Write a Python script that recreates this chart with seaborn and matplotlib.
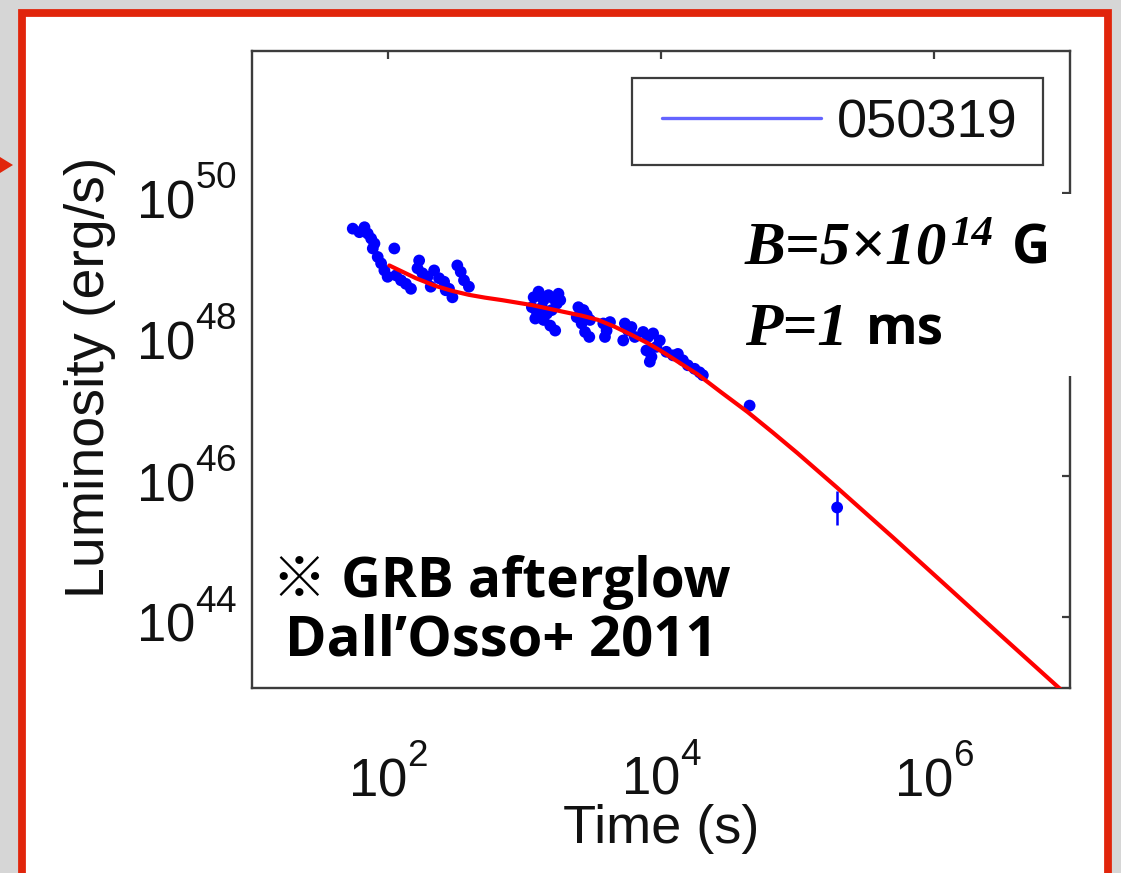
import numpy as np
import pandas as pd
import matplotlib
matplotlib.use("Agg")
import matplotlib.pyplot as plt
import seaborn as sns
from matplotlib.patches import Rectangle, Polygon
from matplotlib.lines import Line2D
from matplotlib.ticker import NullLocator, FixedLocator

try:  # raise superscripts a little, as in the reference tick labels
    import matplotlib._mathtext as _mt
    _mt.FontConstantsBase.sup1 = 1.05
    _mt.DejaVuSansFontConstants.sup1 = 1.05
except Exception:
    pass

# ---------------- data (log10 values) ----------------
obs_log_t = [1.739, 1.788, 1.825, 1.849, 1.874, 1.898, 1.886, 1.922, 1.947, 1.971,
             1.995, 2.044, 2.056, 2.093, 2.129, 2.166, 2.226, 2.214, 2.250, 2.287,
             2.311, 2.336, 2.372, 2.409, 2.445, 2.470, 2.506, 2.531, 2.555, 2.591, 2.421,
             3.066, 3.102, 3.139, 3.175, 3.212, 3.248, 3.053, 3.090, 3.127, 3.163,
             3.199, 3.236, 3.078, 3.139, 3.188, 3.224, 3.261,
             3.394, 3.431, 3.455, 3.382, 3.418, 3.443, 3.479, 3.474,
             3.577, 3.601, 3.626, 3.589,
             3.735, 3.759, 3.783, 3.723, 3.808,
             3.869, 3.905, 3.942, 3.893, 3.930, 3.966, 3.991, 3.918,
             4.039, 4.088, 4.124, 4.161, 4.197, 4.246, 4.283, 4.307,
             4.650, 5.292]
obs_log_L = [49.49, 49.44, 49.51, 49.42, 49.35, 49.28, 49.21, 49.09, 49.00, 48.90,
             48.81, 49.21, 48.83, 48.76, 48.71, 48.64, 49.04, 48.93, 48.86, 48.81,
             48.67, 48.90, 48.79, 48.74, 48.64, 48.52, 48.97, 48.88, 48.76, 48.67, 48.62,
             48.52, 48.60, 48.48, 48.55, 48.50, 48.57, 48.38, 48.31, 48.38, 48.29,
             48.34, 48.43, 48.22, 48.20, 48.12, 48.05, 48.48,
             48.38, 48.34, 48.27, 48.24, 48.15, 48.03, 48.20, 47.96,
             48.15, 48.05, 48.17, 47.96,
             48.15, 48.05, 48.10, 47.91, 47.96,
             48.03, 47.96, 48.01, 47.77, 47.68, 47.82, 47.91, 47.61,
             47.75, 47.70, 47.72, 47.63, 47.56, 47.51, 47.46, 47.42,
             46.99, 45.55]
obs_err_dex = [0.05, 0.05, 0.05, 0.05, 0.05, 0.05, 0.05, 0.05, 0.05, 0.05,
               0.05, 0.05, 0.05, 0.05, 0.05, 0.05, 0.05, 0.05, 0.05, 0.05,
               0.05, 0.05, 0.05, 0.05, 0.05, 0.05, 0.05, 0.05, 0.05, 0.05, 0.05,
               0.04, 0.04, 0.04, 0.04, 0.04, 0.04, 0.04, 0.04, 0.04, 0.04,
               0.04, 0.04, 0.04, 0.04, 0.04, 0.04, 0.04,
               0.05, 0.05, 0.05, 0.05, 0.05, 0.05, 0.05, 0.05,
               0.05, 0.05, 0.05, 0.05,
               0.05, 0.05, 0.05, 0.05, 0.05,
               0.05, 0.05, 0.05, 0.05, 0.05, 0.05, 0.05, 0.05,
               0.04, 0.04, 0.04, 0.04, 0.04, 0.04, 0.04, 0.04,
               0.06, 0.24]

model_log_t = [2.007, 2.105, 2.202, 2.348, 2.470, 2.591, 2.710, 2.834, 3.053, 3.297,
               3.420, 3.540, 3.665, 3.783, 3.905, 4.027, 4.148, 4.270, 4.440, 4.635,
               4.820, 5.000, 5.292, 5.700, 6.095, 6.500, 6.920, 7.000]
model_log_L = [48.97, 48.88, 48.79, 48.68, 48.61, 48.555, 48.515, 48.48, 48.41, 48.31,
               48.26, 48.20, 48.10, 47.99, 47.87, 47.73, 47.58, 47.43, 47.18, 46.90,
               46.61, 46.32, 45.83, 45.13, 44.44, 43.73, 43.00, 42.86]

legend_label = "050319"
x_tick_values = [1e2, 1e4, 1e6]
y_tick_values = [1e44, 1e46, 1e48, 1e50]
x_label = "Time (s)"
y_label = "Luminosity (erg/s)"

# ---------------- style ----------------
sns.set_theme(style="white")
plt.rcParams["font.family"] = ["Liberation Sans", "DejaVu Sans"]
plt.rcParams["mathtext.fontset"] = "custom"
plt.rcParams["mathtext.rm"] = "Liberation Sans"
plt.rcParams["mathtext.it"] = "Liberation Sans:italic"
plt.rcParams["mathtext.bf"] = "Liberation Sans:bold"

W, H = 1121, 873
fig = plt.figure(figsize=(W / 100, H / 100), dpi=100)
fig.patch.set_facecolor("#d6d6d6")

def fx(x):
    return x / W

def fy(y):
    return 1 - y / H

RED = "#e1250b"
# red framed white panel
fig.patches.append(Rectangle((fx(21.5), fy(885)), fx(1107.5) - fx(21.5), fy(13) - fy(885),
                             transform=fig.transFigure, facecolor="white", edgecolor=RED,
                             linewidth=5.6, zorder=-10))
# arrow tip on left
fig.patches.append(Polygon([(fx(0), fy(157)), (fx(13), fy(165)), (fx(0), fy(173))],
                           closed=True, transform=fig.transFigure, facecolor=RED,
                           edgecolor="none", zorder=-5))

ax = fig.add_axes([fx(252), fy(688), fx(1070) - fx(252), fy(51) - fy(688)])
ax.set_facecolor("white")

obs = pd.DataFrame({"t": np.power(10.0, obs_log_t), "L": np.power(10.0, obs_log_L)})
err = np.array(obs_err_dex)
lo = obs["L"] - obs["L"] * 10 ** (-err)
hi = obs["L"] * 10 ** err - obs["L"]
ax.errorbar(obs["t"], obs["L"], yerr=[lo, hi], fmt="none", ecolor="#0000ff",
            elinewidth=1.8, capsize=0, zorder=2)
sns.scatterplot(data=obs, x="t", y="L", ax=ax, color="#0000ff", s=72,
                edgecolor="none", linewidth=0, legend=False, zorder=3)

model = pd.DataFrame({"t": np.power(10.0, model_log_t), "L": np.power(10.0, model_log_L)})
sns.lineplot(data=model, x="t", y="L", ax=ax, color="#ff0000", linewidth=3.0,
             sort=False, estimator=None, zorder=4)

ax.set_xscale("log")
ax.set_yscale("log")
ax.set_xlim(1e1, 1e7)
ax.set_ylim(1e43, 1e52)
ax.xaxis.set_major_locator(FixedLocator(x_tick_values))
ax.yaxis.set_major_locator(FixedLocator(y_tick_values))
ax.xaxis.set_minor_locator(NullLocator())
ax.yaxis.set_minor_locator(NullLocator())

SPINE = "#3c3c3c"
for s in ax.spines.values():
    s.set_color(SPINE)
    s.set_linewidth(1.7)
ax.tick_params(which="major", direction="in", top=True, right=True, length=6,
               width=1.6, color=SPINE, labelsize=38, labelcolor="#111111")
ax.tick_params(axis="x", pad=42)
ax.tick_params(axis="y", pad=11)

ax.set_xlabel(x_label, fontsize=39, color="#111111")
ax.set_ylabel(y_label, fontsize=40, color="#111111")
ax.xaxis.set_label_coords((661 - 252) / 818, (688 - 843) / 637)
ax.xaxis.label.set_va("baseline")
ax.yaxis.set_label_coords((104 - 252) / 818, (688 - 377) / 637)
ax.yaxis.label.set_va("baseline")

# legend: frame drawn as its own rectangle, entry centred inside it
ax.add_patch(Rectangle((fx(632), fy(165)), fx(1043) - fx(632), fy(78) - fy(165),
                       transform=fig.transFigure, facecolor="white", clip_on=False,
                       edgecolor=SPINE, linewidth=1.6, zorder=5))
handle = Line2D([], [], color="#6464ff", linewidth=2.4)
leg = ax.legend([handle], [legend_label], loc="center",
                bbox_to_anchor=(fx(840), fy(123)), bbox_transform=fig.transFigure,
                frameon=False, fontsize=39, handlelength=2.93, handletextpad=0.3,
                borderpad=0, borderaxespad=0)
leg.set_zorder(6)
for t in leg.get_texts():
    t.set_color("#111111")

# white panel that hides part of the right spine behind the parameter text
fig.patches.append(Rectangle((fx(738), fy(376)), fx(1085) - fx(738), fy(194) - fy(376),
                             transform=fig.transFigure, facecolor="white",
                             edgecolor="none", zorder=5))

serif = dict(family=["Liberation Serif", "DejaVu Serif"], weight="bold", style="italic",
             color="black", zorder=10, va="baseline", ha="left")
sansb = dict(family=["Open Sans", "Noto Sans CJK JP", "DejaVu Sans"], weight="bold",
             color="black", zorder=10, va="baseline", ha="left")

fig.text(fx(745), fy(263), "B=5×10", fontsize=44, **serif)
fig.text(fx(951), fy(245), "14", fontsize=31, **serif)
fig.text(fx(1012), fy(263), "G", fontsize=38, **sansb)
fig.text(fx(745), fy(345), "P=1", fontsize=44, **serif)
fig.text(fx(866), fy(345), "ms", fontsize=38, **sansb)

fig.text(fx(272), fy(597), "※ GRB afterglow", fontsize=39.5, **sansb)
fig.text(fx(285), fy(655), "Dall’Osso+ 2011", fontsize=40.5, **sansb)

fig.savefig("out.png", dpi=100, facecolor=fig.get_facecolor())
